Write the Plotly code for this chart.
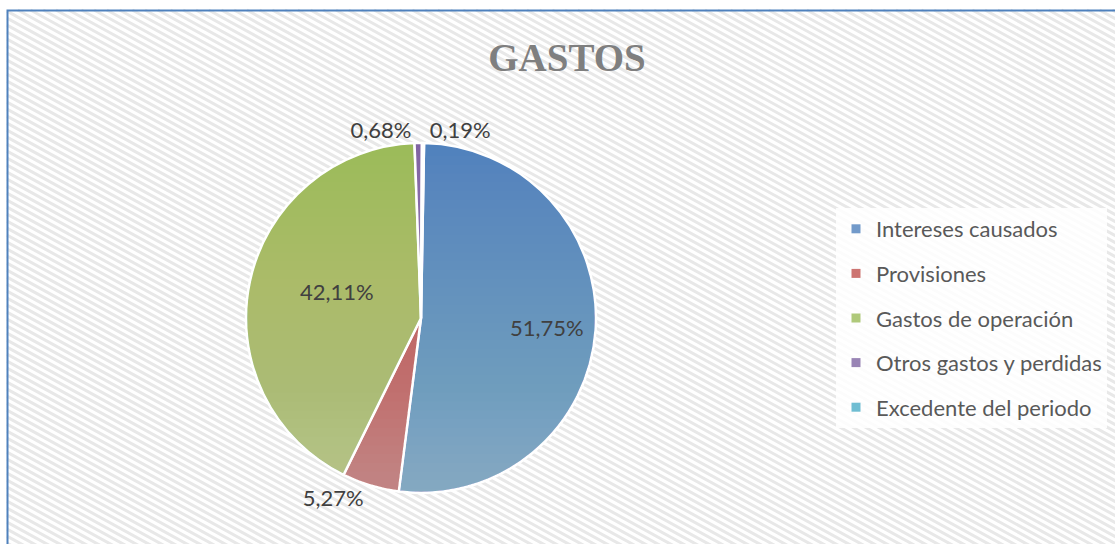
import math
import plotly.graph_objects as go

# ---------------- data ----------------
categories = ["Intereses causados", "Provisiones", "Gastos de operación",
              "Otros gastos y perdidas", "Excedente del periodo"]
values = [51.75, 5.27, 42.11, 0.68, 0.19]
title_text = "GASTOS"

# ---------------- style ----------------
W, H = 1115, 544
base_colors = ["#4f81bd", "#c0504d", "#9bbb59", "#8064a2", "#4bacc6"]
swatch_colors = ["#729aca", "#cd7471", "#afc97a", "#9984b5", "#6fbdd2"]
text_pos = ["none", "outside", "none", "outside", "outside"]
inside_idx = [0, 2]
inside_r = 0.72

# pie geometry in pixels
cx, cy, R = 421, 318, 175


def px(x):
    return x / W


def py(y):
    return 1 - y / H


fig = go.Figure()

fig.add_trace(go.Pie(
    labels=categories,
    values=values,
    sort=False,
    direction="clockwise",
    rotation=1,
    marker=dict(colors=base_colors, line=dict(color="white", width=2.5)),
    texttemplate="%{value:.2f}%",
    textposition=text_pos,
    outsidetextfont=dict(family="Lato", size=22, color="#404040"),
    domain=dict(x=[px(cx - R), px(cx + R)], y=[py(cy + R), py(cy - R)]),
    showlegend=False,
    hoverinfo="label+percent",
))

# legend proxies (one per category, so spacing can be controlled)
for cat, col in zip(categories, swatch_colors):
    fig.add_trace(go.Scatter(
        x=[None], y=[None], mode="markers", name=cat, legendgroup=cat,
        marker=dict(symbol="square", size=9, color=col),
        showlegend=True, hoverinfo="skip",
    ))

# inside labels placed along each slice's mid angle
total = sum(values)
annotations = []
cum = 0.0
rot = 1.0
for i, v in enumerate(values):
    mid = (cum + v / 2) / total * 360 + rot
    cum += v
    if i in inside_idx:
        a = math.radians(mid)
        lx = cx + inside_r * R * math.sin(a)
        ly = cy - inside_r * R * math.cos(a)
        annotations.append(dict(x=px(lx), y=py(ly), xref="paper", yref="paper",
                                text=f"{v:.2f}%".replace(".", ","), showarrow=False,
                                font=dict(family="Lato", size=22, color="#404040")))

shapes = []

# hatch background
x0b, y0b, x1b, y1b = 7, 10, W + 10, H + 10
slope, step = 0.55, 7.0
segs = []
b = y0b - slope * (x1b - x0b)
while b < y1b:
    xl = max(x0b, x0b + (y0b - b) / slope)
    xr = min(x1b, x0b + (y1b - b) / slope)
    if xl < xr:
        yl = b + slope * (xl - x0b)
        yr = b + slope * (xr - x0b)
        segs.append(f"M{px(xl):.5f},{py(yl):.5f}L{px(xr):.5f},{py(yr):.5f}")
    b += step
shapes.append(dict(type="path", xref="paper", yref="paper", path="".join(segs),
                   line=dict(color="#e8e8e8", width=3), layer="below"))

# chart border
shapes.append(dict(type="rect", xref="paper", yref="paper",
                   x0=px(7.5), x1=px(W + 40), y0=py(H + 40), y1=py(10.5),
                   line=dict(color="#4f81bd", width=2), fillcolor="rgba(0,0,0,0)",
                   layer="below"))

# vertical gradient (white overlay, 0 at top -> 0.4 at bottom) over the pie
N = 40
prev = 0.0
for k in range(1, N + 1):
    A = 0.4 * k / N
    d = 1 - (1 - A) / (1 - prev)
    prev = A
    yk = cy - R + (k - 0.5) / N * 2 * R
    t0 = math.asin(max(-1, min(1, (yk - cy) / R)))
    M = 90
    pts = []
    for i in range(M + 1):
        t = t0 + (math.pi - 2 * t0) * i / M
        pts.append((cx + (R + 0.5) * math.cos(t), cy + (R + 0.5) * math.sin(t)))
    path = "M" + "L".join(f"{px(x):.5f},{py(y):.5f}" for x, y in pts) + "Z"
    shapes.append(dict(type="path", xref="paper", yref="paper", path=path,
                       fillcolor="white", opacity=d, line=dict(width=0), layer="above"))

fig.update_layout(
    width=W, height=H,
    margin=dict(l=0, r=0, t=0, b=0),
    paper_bgcolor="white",
    plot_bgcolor="rgba(0,0,0,0)",
    separators=",.",
    xaxis=dict(visible=False),
    yaxis=dict(visible=False),
    title=dict(text=f"<b>{title_text}</b>", x=px(567), y=py(57),
               xanchor="center", yanchor="middle",
               font=dict(family="Liberation Serif", size=39, color="#7f7f7f")),
    legend=dict(x=px(836), y=py(208), xanchor="left", yanchor="top",
                bgcolor="rgba(255,255,255,0.85)", borderwidth=0,
                tracegroupgap=13,
                font=dict(family="Lato", size=22, color="#595959")),
    shapes=shapes,
    annotations=annotations,
)

fig.write_html(
    "out.html",
    config={"displayModeBar": False},
    post_script="document.body.style.margin='0';"
                "document.body.style.overflow='hidden';",
)
